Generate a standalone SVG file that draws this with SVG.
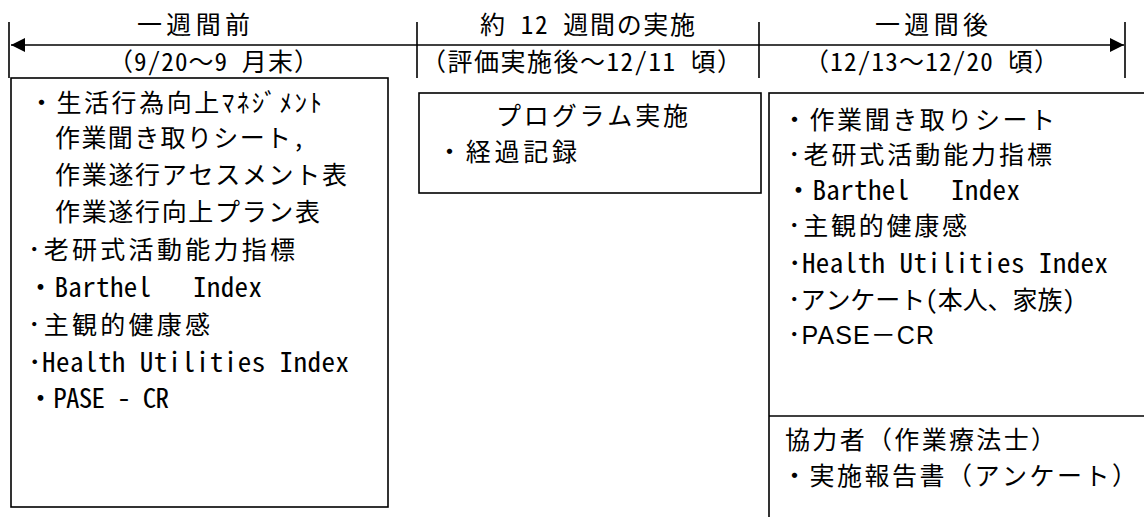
<svg xmlns="http://www.w3.org/2000/svg" width="1144" height="517" viewBox="0 0 1144 517">
<style>
text { font-family: "Noto Sans Mono CJK JP", "Noto Sans CJK JP", "DejaVu Sans Mono", monospace; font-size: 25px; fill: #000; }
.lat { font-size: 27px; }
.p { font-family: "Liberation Sans", "Noto Sans CJK JP", sans-serif; }
.box { fill: #fff; stroke: #000; stroke-width: 1.6; }
.ln { stroke: #000; stroke-width: 1.6; fill: none; }
</style>
<defs>
<marker id="ah" viewBox="0 0 10 10" refX="10" refY="5" markerWidth="16" markerHeight="14" markerUnits="userSpaceOnUse" orient="auto-start-reverse">
<path d="M0,0 L10,5 L0,10 z" fill="#000"/>
</marker>
</defs>
<rect width="1144" height="517" fill="#fff"/>
<g id="connectors">
<line class="ln" x1="11" y1="45" x2="1124" y2="45" marker-start="url(#ah)" marker-end="url(#ah)"/>
<line class="ln" x1="9" y1="22" x2="9" y2="78"/>
<line class="ln" x1="417" y1="22" x2="417" y2="78"/>
<line class="ln" x1="759" y1="22" x2="759" y2="78"/>
<line class="ln" x1="1125" y1="22" x2="1125" y2="78"/>
</g>
<g id="header-before">
<text x="137" y="34" textLength="113" lengthAdjust="spacing">一週間前</text>
<text x="108" y="71" textLength="211" lengthAdjust="spacing">（9/20～9 月末）</text>
</g>
<g id="header-program">
<text x="480" y="34" textLength="215" lengthAdjust="spacing">約 12 週間の実施</text>
<text x="421" y="71" textLength="321" lengthAdjust="spacing">（評価実施後～12/11 頃）</text>
</g>
<g id="header-after">
<text x="875" y="34" textLength="113" lengthAdjust="spacing">一週間後</text>
<text x="804" y="71" textLength="255" lengthAdjust="spacing">（12/13～12/20 頃）</text>
</g>
<g id="box-before">
<rect class="box" x="11" y="78" width="377" height="429"/>
<text x="29" y="112" textLength="293" lengthAdjust="spacing">・生活行為向上ﾏﾈｼﾞﾒﾝﾄ</text>
<text x="55" y="147" textLength="250" lengthAdjust="spacing">作業聞き取りシート,</text>
<text x="55" y="184" textLength="292" lengthAdjust="spacing">作業遂行アセスメント表</text>
<text x="55" y="221" textLength="265" lengthAdjust="spacing">作業遂行向上プラン表</text>
<text x="28" y="259" textLength="267" lengthAdjust="spacing">･老研式活動能力指標</text>
<text class="lat" x="27" y="297" textLength="235" lengthAdjust="spacing">・Barthel　 Index</text>
<text x="28" y="334" textLength="182" lengthAdjust="spacing">･主観的健康感</text>
<text class="lat" x="28" y="372" textLength="321" lengthAdjust="spacing">･Health Utilities Index</text>
<text class="lat" x="27" y="408" textLength="142" lengthAdjust="spacing">・PASE - CR</text>
</g>
<g id="box-program">
<rect class="box" x="419" y="93" width="342" height="100"/>
<text x="496" y="125" textLength="192" lengthAdjust="spacing">プログラム実施</text>
<text x="437" y="161" textLength="140" lengthAdjust="spacing">・経過記録</text>
</g>
<g id="box-after">
<rect class="box" x="769" y="93" width="380" height="430"/>
<line class="ln" x1="769" y1="416" x2="1144" y2="416"/>
<text x="782" y="129" textLength="273" lengthAdjust="spacing">・作業聞き取りシート</text>
<text x="788" y="164" textLength="264" lengthAdjust="spacing">･老研式活動能力指標</text>
<text class="lat" x="785" y="200" textLength="235" lengthAdjust="spacing">・Barthel　 Index</text>
<text x="788" y="235" textLength="179" lengthAdjust="spacing">･主観的健康感</text>
<text class="lat" x="788" y="273" textLength="320" lengthAdjust="spacing">･Health Utilities Index</text>
<text x="788" y="309" textLength="287" lengthAdjust="spacing">･アンケート(本人、家族)</text>
<text class="p" x="788" y="344" textLength="146" lengthAdjust="spacing">･PASE－CR</text>
</g>
<g id="box-cooperator">
<text x="785" y="449" textLength="271" lengthAdjust="spacing">協力者（作業療法士）</text>
<text x="782" y="485" textLength="355" lengthAdjust="spacing">・実施報告書（アンケート）</text>
</g>
</svg>
